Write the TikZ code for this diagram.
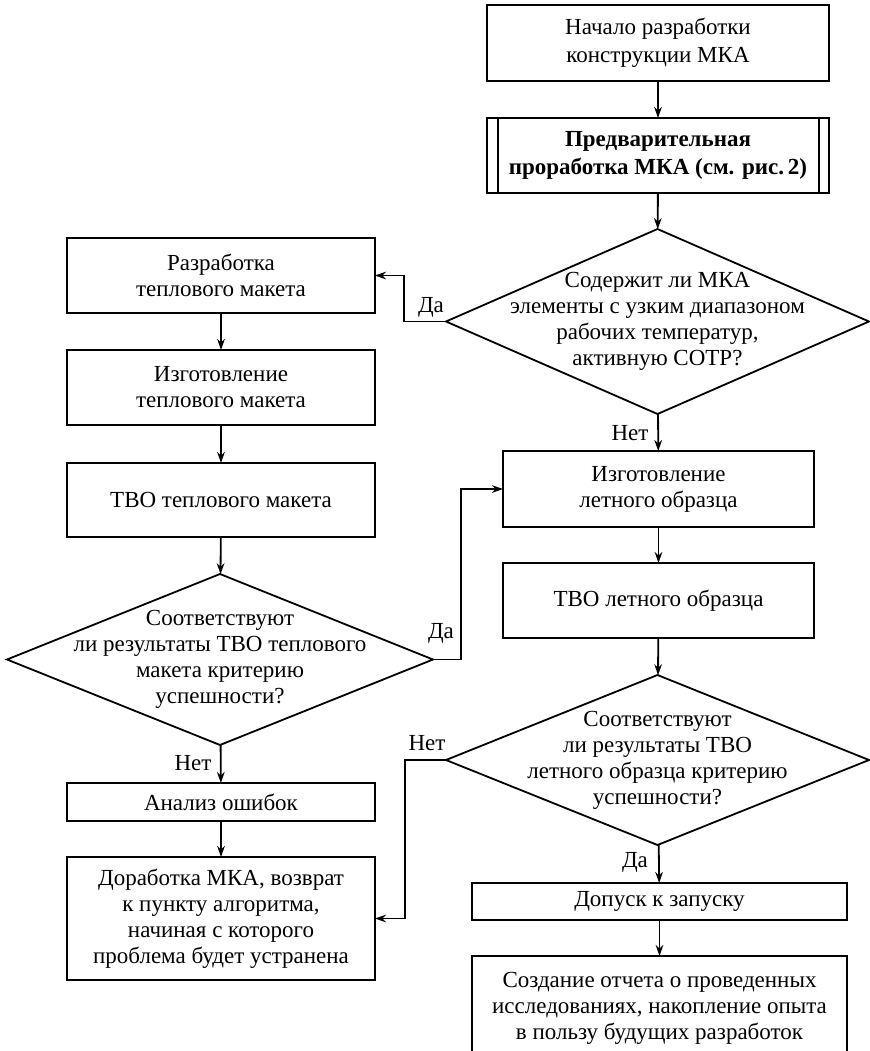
\documentclass[tikz,border=0pt]{standalone}
\usepackage{fontspec}
\setmainfont{Liberation Serif}
\usetikzlibrary{shapes.geometric, arrows.meta}
\tikzset{
    base/.style={font=\fontsize{11.5pt}{13pt}\selectfont, inner sep=0pt, outer sep=0pt},
    box/.style={base, draw, rectangle, line width=0.9pt, align=center},
    lbox/.style={box, minimum width=154pt},
    dec/.style={base, draw, diamond, line width=0.9pt, minimum width=211.5pt, minimum height=92.5pt},
    txt/.style={base, align=center},
    lbl/.style={base},
    arr/.style={line width=0.9pt, -{Stealth[length=5.5pt, width=3.8pt]}}
}

\begin{document}
\begin{tikzpicture}[x=0.5pt, y=-0.5pt]
    \useasboundingbox (0,0) rectangle (869,1051);

    % right column
    \node[box, minimum width=171pt, minimum height=38pt, font=\fontsize{11.5pt}{14pt}\selectfont] (start) at (658,43) {Начало разработки\\конструкции МКА};
    \node[box, minimum width=171pt, minimum height=37.5pt, font=\fontsize{11.5pt}{14pt}\selectfont\bfseries] (pre) at (658,155.5) {Предварительная\\проработка МКА (см. рис.\,2)};
    \draw[line width=0.9pt] ([xshift=5.5pt]pre.north west) -- ([xshift=5.5pt]pre.south west);
    \draw[line width=0.9pt] ([xshift=-5pt]pre.north east) -- ([xshift=-5pt]pre.south east);
    \node[dec, label={[txt]center:{Содержит ли МКА\\элементы с узким диапазоном\\рабочих температур,\\активную СОТР?}}] (q1) at (657.5,321.5) {};
    \node[box, minimum width=155.5pt, minimum height=38pt] (fly) at (658.5,489) {Изготовление\\летного образца};
    \node[box, minimum width=155.5pt, minimum height=37.5pt] (flytest) at (658.5,600.5) {ТВО летного образца};
    \node[dec, minimum height=85pt, label={[txt]center:{Соответствуют\\ли результаты ТВО\\летного образца критерию\\успешности?}}] (q3) at (657.5,760) {};
    \node[box, minimum width=187.5pt, minimum height=18.5pt] (launch) at (659.5,901.5) {Допуск к запуску};
    \node[box, minimum width=187.5pt, minimum height=52pt] (report) at (659.5,1008) {Создание отчета о проведенных\\исследованиях, накопление опыта\\в пользу будущих разработок};

    % left column
    \node[lbox, minimum height=37.5pt] (dev) at (221,275.5) {Разработка\\теплового макета};
    \node[lbox, minimum height=37.5pt] (make) at (221,387.5) {Изготовление\\теплового макета};
    \node[lbox, minimum height=37pt] (test) at (221,500) {ТВО теплового макета};
    \node[dec, minimum width=213pt, minimum height=85.5pt, label={[txt]center:{Соответствуют\\ли результаты ТВО теплового\\макета критерию\\успешности?}}] (q2) at (220,659.5) {};
    \node[lbox, minimum height=19pt] (err) at (221,802) {Анализ ошибок};
    \node[lbox, minimum height=61.5pt] (fix) at (221,918.5) {Доработка МКА, возврат\\к пункту алгоритма,\\начиная с которого\\проблема будет устранена};

    % labels
    \node[lbl] (yes1) at (431,307) {Да};
    \node[lbl] (no1) at (630,433) {Нет};
    \node[lbl] (yes2) at (441,633) {Да};
    \node[lbl] (no2) at (193,763) {Нет};
    \node[lbl] (no3) at (427,743) {Нет};
    \node[lbl] (yes3) at (635,862) {Да};

    % connectors
    \draw[arr] (start) -- (pre);
    \draw[arr] (pre) -- (q1);
    \draw[arr] (q1.west) -- ++(-42,0) |- (dev.east);
    \draw[arr] (q1) -- (fly);
    \draw[arr] (fly) -- (flytest);
    \draw[arr] (flytest) -- (q3);
    \draw[arr] (q3) -- (launch);
    \draw[arr] (launch) -- (report);
    \draw[arr] (dev) -- (make);
    \draw[arr] (make) -- (test);
    \draw[arr] (test) -- (q2);
    \draw[arr] (q2.east) -- ++(28,0) |- (fly.west);
    \draw[arr] (q2) -- (err);
    \draw[arr] (err) -- (fix);
    \draw[arr] (q3.west) -- ++(-41,0) |- (fix.east);
\end{tikzpicture}
\end{document}
